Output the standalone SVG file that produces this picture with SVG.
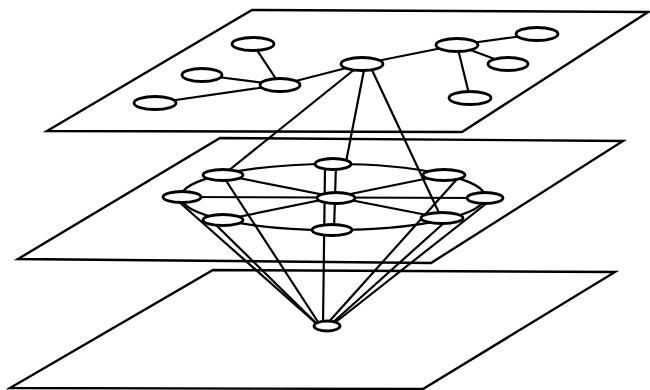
<svg xmlns="http://www.w3.org/2000/svg" width="650" height="390" viewBox="0 0 650 390">
<style>
.pl{fill:none;stroke:#000;stroke-width:2.4;stroke-linejoin:miter}
.c{fill:none;stroke:#000;stroke-width:2.2}
.n ellipse{fill:#fff;stroke:#000;stroke-width:2.8}
</style>
<rect width="650" height="390" fill="#fff"/>
<g id="planes">
<polygon class="pl" points="252,10 648,12 462,132 47,131"/>
<polygon class="pl" points="220,138 623,141 431,263 18,259"/>
<polygon class="pl" points="213,270 615,272 423,389 10,388"/>
</g>
<g id="connectors">
<line class="c" x1="253" y1="44" x2="280" y2="85"/>
<line class="c" x1="202" y1="75" x2="280" y2="85"/>
<line class="c" x1="155" y1="103" x2="280" y2="85"/>
<line class="c" x1="280" y1="85" x2="362" y2="64"/>
<line class="c" x1="362" y1="64" x2="457" y2="45"/>
<line class="c" x1="457" y1="45" x2="537" y2="34"/>
<line class="c" x1="457" y1="45" x2="508" y2="64"/>
<line class="c" x1="457" y1="45" x2="470" y2="98"/>
<line class="c" x1="355" y1="69" x2="228" y2="171"/>
<line class="c" x1="364" y1="70" x2="346" y2="162"/>
<line class="c" x1="372" y1="70" x2="440" y2="215"/>
<ellipse class="c" cx="333" cy="197" rx="152" ry="33"/>
<line class="c" x1="182" y1="197" x2="485" y2="198"/>
<line class="c" x1="223" y1="175" x2="442" y2="218"/>
<line class="c" x1="444" y1="175" x2="223" y2="220"/>
<line class="c" x1="336" y1="164" x2="334" y2="230"/>
<line class="c" x1="178" y1="201" x2="318" y2="325"/>
<line class="c" x1="215" y1="224" x2="318" y2="325"/>
<line class="c" x1="225" y1="179" x2="320" y2="325"/>
<line class="c" x1="325" y1="168" x2="323" y2="326"/>
<line class="c" x1="458" y1="178" x2="326" y2="325"/>
<line class="c" x1="445" y1="222" x2="330" y2="325"/>
<line class="c" x1="487" y1="203" x2="332" y2="325"/>
</g>
<g id="top-a" class="n"><ellipse cx="253" cy="44" rx="21" ry="6.5"/></g>
<g id="top-b" class="n"><ellipse cx="280" cy="85" rx="20" ry="6.5"/></g>
<g id="top-c" class="n"><ellipse cx="202" cy="75" rx="20" ry="6.5"/></g>
<g id="top-d" class="n"><ellipse cx="155" cy="103" rx="21" ry="6.5"/></g>
<g id="top-hub" class="n"><ellipse cx="362" cy="64" rx="21" ry="6.5"/></g>
<g id="top-e" class="n"><ellipse cx="457" cy="45" rx="21" ry="6.5"/></g>
<g id="top-f" class="n"><ellipse cx="537" cy="34" rx="21" ry="6.5"/></g>
<g id="top-g" class="n"><ellipse cx="508" cy="64" rx="20" ry="6.5"/></g>
<g id="top-i" class="n"><ellipse cx="470" cy="98" rx="21" ry="6.5"/></g>
<g id="mid-left" class="n"><ellipse cx="182" cy="197" rx="19" ry="5.5"/></g>
<g id="mid-upper-left" class="n"><ellipse cx="223" cy="175" rx="20" ry="5.5"/></g>
<g id="mid-top" class="n"><ellipse cx="333" cy="164" rx="18" ry="5.5"/></g>
<g id="mid-upper-right" class="n"><ellipse cx="444" cy="175" rx="21" ry="5.5"/></g>
<g id="mid-right" class="n"><ellipse cx="485" cy="198" rx="18" ry="5.5"/></g>
<g id="mid-lower-right" class="n"><ellipse cx="442" cy="218" rx="21" ry="5.5"/></g>
<g id="mid-bottom" class="n"><ellipse cx="332" cy="230" rx="20" ry="5.5"/></g>
<g id="mid-lower-left" class="n"><ellipse cx="223" cy="220" rx="20" ry="5.5"/></g>
<g id="mid-center" class="n"><ellipse cx="336" cy="198" rx="19" ry="5.5"/></g>
<g id="bottom-apex" class="n"><ellipse cx="327" cy="326" rx="13" ry="5"/></g>
</svg>
